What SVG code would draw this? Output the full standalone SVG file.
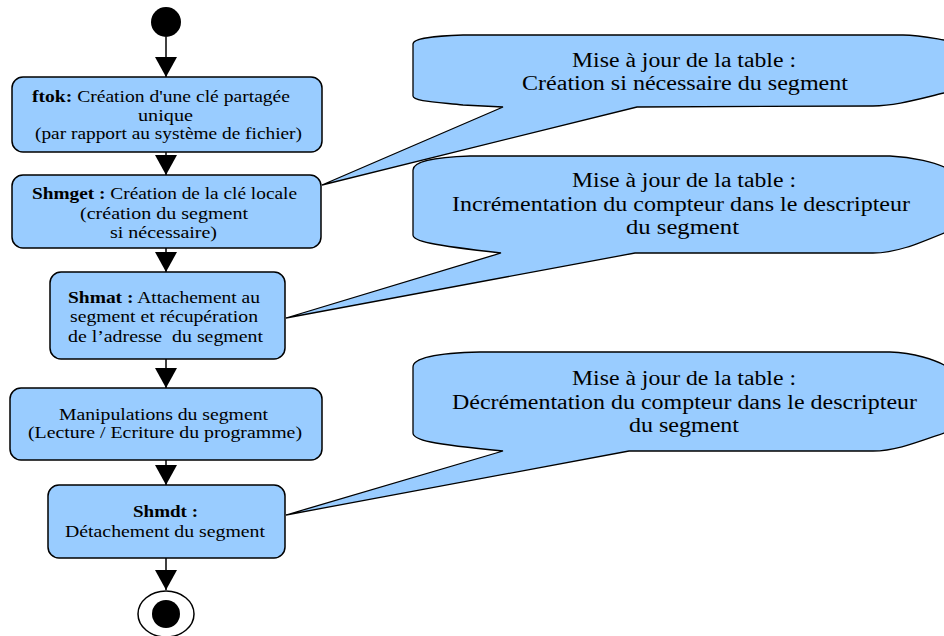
<svg xmlns="http://www.w3.org/2000/svg" width="944" height="636" viewBox="0 0 944 636">
<style>
.box{fill:#99ccff;stroke:#000;stroke-width:1.5}
.call{fill:#99ccff;stroke:#000;stroke-width:1.3;stroke-linejoin:miter}
.t{font-family:"Liberation Serif","Times New Roman",serif;font-size:16px;fill:#000;white-space:pre}
.ct{font-family:"Liberation Serif","Times New Roman",serif;font-size:20px;fill:#000;white-space:pre}
.b{font-weight:bold}
.edge{stroke:#000;stroke-width:1.5;fill:none;marker-end:url(#arr)}
</style>
<defs>
<marker id="arr" viewBox="0 0 20 22" refX="20" refY="11" markerWidth="20" markerHeight="22" markerUnits="userSpaceOnUse" orient="auto">
<path d="M0,0 L20,11 L0,22 Z" fill="#000"/>
</marker>
</defs>
<rect width="944" height="636" fill="#fff"/>

<g id="callout1">
<path class="call" d="M413,44 C413,38 435,36 463,35 L903,35 C918,35 932,38 944,40 C955,42 962,46 962,55 L962,85 C962,90 955,91 944,93 C915,100 895,106 873,106 L637,107 L322,185 L503,107 L463,105 C435,102 413,101 413,96 Z"/>
<text class="ct" x="572" y="67" textLength="224" lengthAdjust="spacingAndGlyphs">Mise à jour de la table :</text>
<text class="ct" x="522" y="90" textLength="326" lengthAdjust="spacingAndGlyphs">Création si nécessaire du segment</text>
</g>
<g id="callout2">
<path class="call" d="M413,170 C413,160 440,157 470,156 L890,156 C915,157 935,163 944,167 C955,171 962,178 962,190 L962,225 C962,230 955,231 944,233 C915,245 895,253 873,253 L635,253 L286,318 L501,253 C430,245 413,241 413,235 Z"/>
<text class="ct" x="572" y="187" textLength="224" lengthAdjust="spacingAndGlyphs">Mise à jour de la table :</text>
<text class="ct" x="452" y="211" textLength="458" lengthAdjust="spacingAndGlyphs">Incrémentation du compteur dans le descripteur</text>
<text class="ct" x="626" y="234" textLength="113" lengthAdjust="spacingAndGlyphs">du segment</text>
</g>
<g id="callout3">
<path class="call" d="M413,367 C413,357 440,353 480,352 L890,352 C915,353 935,360 944,365 C955,370 962,378 962,390 L962,425 C962,430 955,431 944,433 C915,443 895,451 873,451 L629,451 L286,515 L503,451 C430,444 413,440 413,433 Z"/>
<text class="ct" x="572" y="385" textLength="224" lengthAdjust="spacingAndGlyphs">Mise à jour de la table :</text>
<text class="ct" x="452" y="409" textLength="465" lengthAdjust="spacingAndGlyphs">Décrémentation du compteur dans le descripteur</text>
<text class="ct" x="629" y="432" textLength="110" lengthAdjust="spacingAndGlyphs">du segment</text>
</g>

<g id="connectors">
<line class="edge" x1="166" y1="37" x2="166" y2="77"/>
<line class="edge" x1="166" y1="152" x2="166" y2="175"/>
<line class="edge" x1="166" y1="248" x2="166" y2="272"/>
<line class="edge" x1="166" y1="359" x2="166" y2="388"/>
<line class="edge" x1="166" y1="460" x2="166" y2="485"/>
<line class="edge" x1="166" y1="558" x2="166" y2="590"/>
</g>

<g id="start">
<circle cx="166" cy="22" r="15" fill="#000"/>
</g>

<g id="ftok">
<rect class="box" x="12" y="77" width="310" height="75" rx="11"/>
<text class="t" x="32" y="102" textLength="258" lengthAdjust="spacingAndGlyphs"><tspan class="b">ftok:</tspan> Création d'une clé partagée</text>
<text class="t" x="138" y="121" textLength="55" lengthAdjust="spacingAndGlyphs">unique</text>
<text class="t" x="35" y="139" textLength="267" lengthAdjust="spacingAndGlyphs">(par rapport au système de fichier)</text>
</g>

<g id="shmget">
<rect class="box" x="12" y="175" width="309" height="73" rx="11"/>
<text class="t" x="32" y="199" textLength="265" lengthAdjust="spacingAndGlyphs"><tspan class="b">Shmget :</tspan> Création de la clé locale</text>
<text class="t" x="80" y="219" textLength="168" lengthAdjust="spacingAndGlyphs">(création du segment</text>
<text class="t" x="110" y="238" textLength="107" lengthAdjust="spacingAndGlyphs">si nécessaire)</text>
</g>

<g id="shmat">
<rect class="box" x="50" y="272" width="235" height="87" rx="11"/>
<text class="t" x="68" y="303" textLength="192" lengthAdjust="spacingAndGlyphs"><tspan class="b">Shmat :</tspan> Attachement au</text>
<text class="t" x="70" y="322" textLength="188" lengthAdjust="spacingAndGlyphs">segment et récupération</text>
<text class="t" x="68" y="342" textLength="195" lengthAdjust="spacingAndGlyphs">de l’adresse  du segment</text>
</g>

<g id="manipulations">
<rect class="box" x="10" y="388" width="312" height="72" rx="11"/>
<text class="t" x="59" y="420" textLength="209" lengthAdjust="spacingAndGlyphs">Manipulations du segment</text>
<text class="t" x="28" y="438" textLength="274" lengthAdjust="spacingAndGlyphs">(Lecture / Ecriture du programme)</text>
</g>

<g id="shmdt">
<rect class="box" x="48" y="485" width="237" height="73" rx="11"/>
<text class="t b" x="133" y="517" textLength="65" lengthAdjust="spacingAndGlyphs">Shmdt :</text>
<text class="t" x="65" y="537" textLength="200" lengthAdjust="spacingAndGlyphs">Détachement du segment</text>
</g>

<g id="end">
<ellipse cx="166" cy="614" rx="28" ry="23" fill="#fff" stroke="#000" stroke-width="1.5"/>
<circle cx="166" cy="614" r="14" fill="#000"/>
</g>
</svg>
